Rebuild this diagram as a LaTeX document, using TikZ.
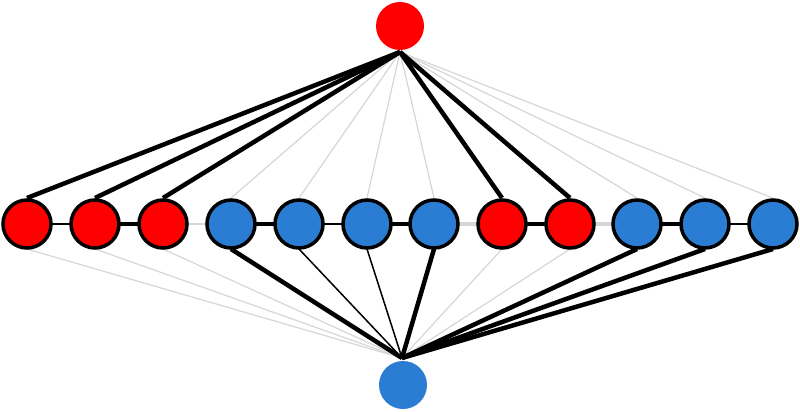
\documentclass[tikz,border=0pt]{standalone}
\definecolor{nred}{RGB}{255,0,0}
\definecolor{nblue}{RGB}{42,125,211}
\definecolor{lgray}{RGB}{214,214,214}
\begin{document}
\begin{tikzpicture}[x=1pt,y=-1pt,
  endnode/.style={circle,minimum size=48pt,inner sep=0pt,outer sep=0pt,draw=none},
  midnode/.style={circle,minimum size=48pt,inner sep=0pt,outer sep=0pt,draw=black,line width=3.5pt},
  rednode/.style={fill=nred},
  bluenode/.style={fill=nblue},
  strong/.style={draw=black,line width=4.5pt},
  weak/.style={draw=black,line width=1.5pt},
  faint/.style={draw=lgray,line width=1.2pt},
  faintthick/.style={draw=lgray,line width=4.5pt}]
\useasboundingbox (0,0) rectangle (800,412);
% coordinates
\coordinate (tp) at (400,52);
\coordinate (bp) at (402,358);
\foreach \i/\x in {1/27,2/95,3/163,4/231,5/299,6/367,7/434,8/502,9/570,10/637,11/705,12/773}{
  \coordinate (c\i) at (\x,224);
  \coordinate (u\i) at (\x,198);
  \coordinate (d\i) at (\x,249);
}
% top edges
\foreach \i in {4,5,6,7,10,11,12} \draw[faint] (tp) -- (u\i);
\foreach \i in {1,2,3,8,9} \draw[strong] (tp) -- (u\i);
% bottom edges
\foreach \i in {1,2,3,8,9} \draw[faint] (bp) -- (d\i);
\foreach \i in {5,6} \draw[weak] (bp) -- (d\i);
\foreach \i in {4,7,10,11,12} \draw[strong] (bp) -- (d\i);
% horizontal edges
\draw[weak] (c1) -- (c2);
\draw[strong] (c2) -- (c3);
\draw[faint] (c3) -- (c4);
\draw[strong] (c4) -- (c5);
\draw[weak] (c5) -- (c6);
\draw[strong] (c6) -- (c7);
\draw[faintthick] (c7) -- (c8);
\draw[strong] (c8) -- (c9);
\draw[faintthick] (c9) -- (c10);
\draw[strong] (c10) -- (c11);
\draw[weak] (c11) -- (c12);
% nodes
\node[endnode,rednode] (top) at (400,26) {};
\node[endnode,bluenode] (bot) at (403,385) {};
\foreach \i/\c in {1/rednode,2/rednode,3/rednode,4/bluenode,5/bluenode,6/bluenode,7/bluenode,8/rednode,9/rednode,10/bluenode,11/bluenode,12/bluenode}{
  \node[midnode,\c] (m\i) at (c\i) {};
}
\end{tikzpicture}
\end{document}
